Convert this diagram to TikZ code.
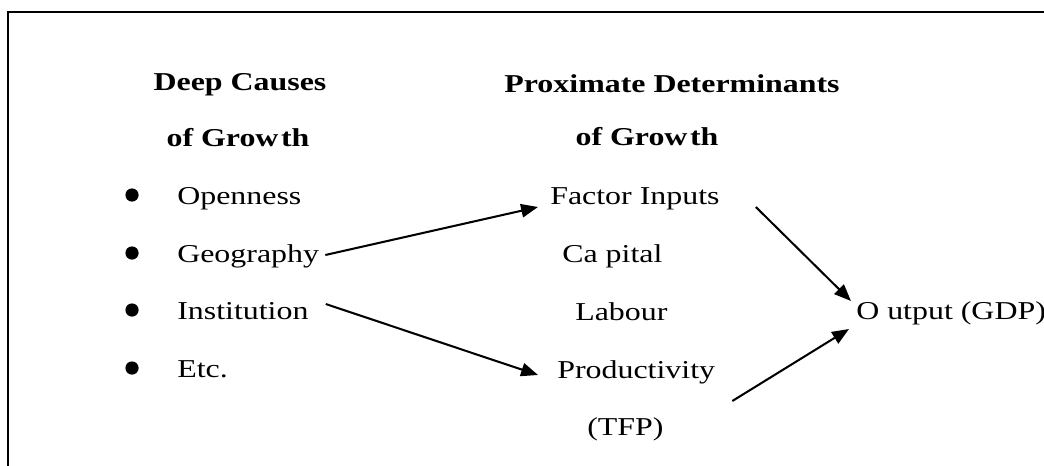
\documentclass[tikz,border=0pt]{standalone}
\usepackage{fontspec}
\setmainfont{Liberation Serif}[FakeStretch=1.24]
\usetikzlibrary{arrows.meta}

\begin{document}
\begin{tikzpicture}[x=0.025cm, y=-0.025cm, >={Triangle[length=12pt,width=9.5pt]},
  every node/.style={inner sep=0pt, font=\fontsize{18.3}{22}\selectfont},
  head/.style={anchor=base, font=\fontsize{18.3}{22}\selectfont\bfseries},
  item/.style={anchor=base west},
  link/.style={->, line width=1.45pt}]
  \useasboundingbox (0,0) rectangle (1044,466);
  % Frame (top and left edges)
  \draw[line width=1.3pt] (8,466) -- (8,12) -- (1044,12);
  % Deep causes
  \node[head] (dc1) at (240,91) {Deep Causes};
  \node[head] (dc2) at (238,146) {of Grow\hspace{0.1em}th};
  \node[item] (open) at (177,204) {Openness};
  \node[item] (geo) at (177,262) {Geography};
  \node[item] (inst) at (177,319) {Institution};
  \node[item] (etc) at (177,377) {Etc.};
  \foreach \y in {195,253,310,368}
    \fill (132,\y) circle (0.165cm);
  % Proximate determinants
  \node[head] (pd1) at (672,92) {Proximate Determinants};
  \node[head] (pd2) at (647,145) {of Grow\hspace{0.1em}th};
  \node[item] (fi) at (550,204) {Factor Inputs};
  \node[item] (cap) at (562,262) {Ca pital};
  \node[item] (lab) at (575,320) {Labour};
  \node[item] (prod) at (557,378) {Productivity};
  \node[item] (tfp) at (587,435) {(TFP)};
  % Output
  \node[item] (out) at (856,319) {O utput (GDP)};
  % Arrows
  \draw[link] ([shift={(6,-7)}]geo.base east) -- ([shift={(-12,3)}]fi.base west);
  \draw[link] ([shift={(17,-15)}]inst.base east) -- ([shift={(-19,-3)}]prod.base west);
  \draw[link] ([shift={(36,3)}]fi.base east) -- ([shift={(-5,-18)}]out.base west);
  \draw[link] ([shift={(17,23)}]prod.base east) -- ([shift={(-7,10)}]out.base west);
\end{tikzpicture}
\end{document}
